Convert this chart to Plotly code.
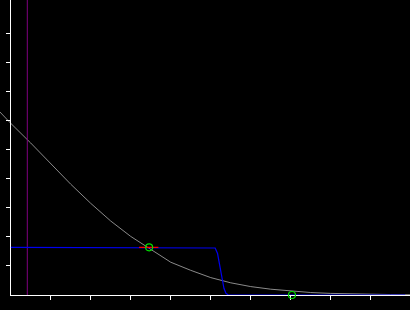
import plotly.graph_objects as go

# ---- data ----
curve_x = [-0.27, 0, 0.5, 1, 1.5, 2, 2.5, 3, 3.5, 4, 4.5, 5, 5.5, 6, 6.5, 7, 7.5, 8, 8.5, 9, 9.5, 10]
curve_y = [6.31, 5.92, 5.24, 4.52, 3.82, 3.16, 2.55, 2.02, 1.57, 1.13, 0.85, 0.60, 0.42, 0.29, 0.20, 0.13,
           0.085, 0.055, 0.035, 0.022, 0.015, 0.01]

step_x = [0, 5.0, 5.11, 5.17, 5.21, 5.25, 5.29, 5.33, 5.38, 5.44, 9.86]
step_y = [1.645, 1.645, 1.62, 1.43, 1.15, 0.86, 0.52, 0.23, 0.06, 0, 0]

red_x = [3.21, 3.69]
red_y = [1.645, 1.645]

marker_x = [3.46, 7.03]
marker_y = [1.645, 0]

vline_x = [0.415, 0.415]
vline_y = [0, 10.17]

tick_vals = [1, 2, 3, 4, 5, 6, 7, 8, 9]

X_RANGE = [0, 9.98]
Y_RANGE = [0, 10.17]
LEFT = 10.7 / 410.0

fig = go.Figure()

# gray curve on a full-width hidden subplot (extends left of the y axis)
span = X_RANGE[1] - X_RANGE[0]
x_full = [X_RANGE[0] - span * LEFT / (1 - LEFT), X_RANGE[1]]
fig.add_trace(go.Scatter(x=curve_x, y=curve_y, mode="lines",
                         line=dict(color="#8a8a8a", width=1),
                         xaxis="x", yaxis="y", showlegend=False, hoverinfo="skip"))

fig.add_trace(go.Scatter(x=vline_x, y=vline_y, mode="lines",
                         line=dict(color="#800080", width=1),
                         xaxis="x2", yaxis="y2", showlegend=False))
fig.add_trace(go.Scatter(x=step_x, y=step_y, mode="lines",
                         line=dict(color="#0000ee", width=1.2),
                         xaxis="x2", yaxis="y2", showlegend=False))
fig.add_trace(go.Scatter(x=red_x, y=red_y, mode="lines",
                         line=dict(color="#ff0000", width=1.2),
                         xaxis="x2", yaxis="y2", showlegend=False))
fig.add_trace(go.Scatter(x=marker_x, y=marker_y, mode="markers",
                         marker=dict(symbol="circle-open", size=7, color="#00e000",
                                     line=dict(width=1.2, color="#00e000")),
                         xaxis="x2", yaxis="y2", showlegend=False, cliponaxis=False))

fig.update_layout(
    width=410, height=310,
    margin=dict(l=0, r=0, t=0, b=15),
    paper_bgcolor="black", plot_bgcolor="rgba(0,0,0,0)",
    xaxis=dict(domain=[0, 1], range=x_full, visible=False, anchor="y"),
    yaxis=dict(domain=[0, 1], range=Y_RANGE, visible=False, anchor="x"),
    xaxis2=dict(domain=[LEFT, 1], range=X_RANGE, anchor="y2",
                showline=True, linecolor="white", linewidth=1,
                ticks="outside", ticklen=4, tickwidth=1, tickcolor="white",
                tickvals=tick_vals, showticklabels=False,
                showgrid=False, zeroline=False, layer="below traces"),
    yaxis2=dict(domain=[0, 1], range=Y_RANGE, anchor="x2",
                showline=True, linecolor="white", linewidth=1,
                ticks="outside", ticklen=4, tickwidth=1, tickcolor="white",
                tickvals=tick_vals, showticklabels=False,
                showgrid=False, zeroline=False, layer="below traces"),
    showlegend=False,
)

fig.write_html("out.html")
